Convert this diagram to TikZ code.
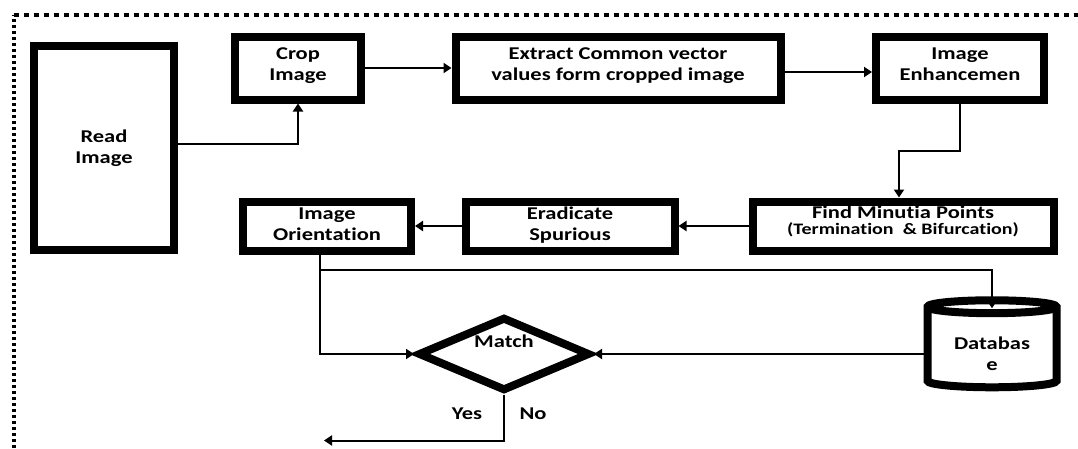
\documentclass[tikz,border=0pt]{standalone}
\usepackage{fontspec}
\setmainfont{Carlito}[FakeStretch=1.25, Ligatures=NoCommon]
\usetikzlibrary{shapes, arrows.meta, positioning, calc}
% two-line label, lifted or lowered inside its shape
\newcommand{\stacktext}[2][0pt]{\raisebox{#1}[0pt][0pt]{\begin{tabular}{@{}c@{}}#2\end{tabular}}}

\begin{document}
\begin{tikzpicture}[x=1pt, y=-1pt,
  every node/.style={font=\bfseries\fontsize{18}{21}\selectfont, align=center},
  stage/.style={rectangle, draw, line width=8pt, inner sep=0pt},
  arr/.style={line width=2pt, -{Triangle[length=8pt,width=10pt]}}]
\useasboundingbox (0,0) rectangle (1078,448);
% Outer dashed frame
\draw[line width=4pt, dash pattern=on 5pt off 5pt] (13.5,14.5) -- (1078,14.5);
\draw[line width=4pt, dash pattern=on 3.5pt off 2.5pt] (13.5,448) -- (13.5,14.5);
% Process boxes
\node[stage, minimum width=140, minimum height=204] (read) at (104,148) {Read\\Image};
\node[stage, minimum width=126, minimum height=63] (crop) at (298,68) {\stacktext[-2.3pt]{Crop\\Image}};
\node[stage, minimum width=325, minimum height=63] (extract) at (618,68) {\stacktext[-2.3pt]{Extract Common vector\\values form cropped image}};
\node[stage, minimum width=168, minimum height=63] (enh) at (960,68) {\stacktext[-2.3pt]{Image\\Enhancemen}};
\node[stage, minimum width=301, minimum height=49] (find) at (903,226) {\stacktext[-1pt]{Find Minutia Points\\[-5pt]{\fontsize{16}{16}\selectfont(Termination~ \& Bifurcation)}}};
\node[stage, minimum width=209, minimum height=49] (erad) at (570,226) {\stacktext[-4.3pt]{Eradicate\\Spurious}};
\node[stage, minimum width=168, minimum height=49] (orient) at (327,226) {\stacktext[-4.3pt]{Image\\Orientation}};
% Decision and store
\node[diamond, draw, line width=8pt, aspect=2.3, minimum width=172, minimum height=74, inner sep=0pt, text depth=26pt] (match) at (504,354) {Match};
\node[cylinder, shape border rotate=90, draw, line width=8pt, aspect=0.17, minimum width=129, minimum height=87, inner sep=0pt] (db) at (992,349) {\stacktext[-11.3pt]{Databas\\e}};
\node (yes) at (467,414) {Yes};
\node (no) at (533,414) {No};
\coordinate (out) at (324,440.5);
% Connectors
\draw[arr] ([yshift=4]read.east) -| (crop.south);
\draw[arr] (crop.east) -- (extract.west);
\draw[arr] ([yshift=-4]extract.east) -- ([yshift=-4]enh.west);
\draw[arr] (enh.south) -- ++(0,47) -| ([xshift=-4]find.north);
\draw[arr] (find.west) -- (erad.east);
\draw[arr] (erad.west) -- (orient.east);
\draw[arr] ([xshift=-7]orient.south) |- (match.west);
\draw[arr] ([xshift=-7]orient.south) -- ++(0,15) -| ([yshift=-12]db.north);
\draw[arr] (db.west |- match.east) -- (match.east);
\draw[arr] (match.south) |- (out);
\end{tikzpicture}
\end{document}
